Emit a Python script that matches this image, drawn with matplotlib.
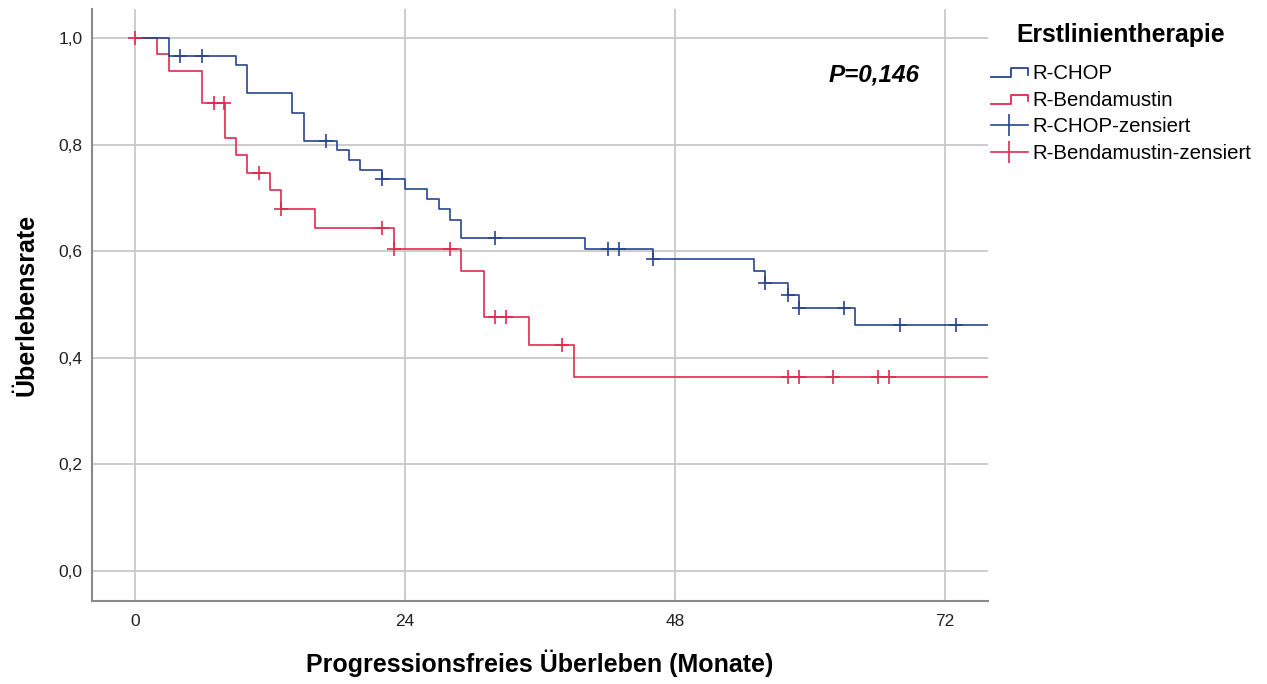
import numpy as np
import matplotlib
matplotlib.use("Agg")
import matplotlib.pyplot as plt
from matplotlib.lines import Line2D
from matplotlib.legend_handler import HandlerBase

# Kaplan-Meier step data
chop_times = [0, 3, 9, 10, 14, 15, 18, 19, 20, 22, 24, 26, 27, 28, 29, 40, 46, 55, 56, 58, 59, 64]
chop_surv = [1.0, 0.967, 0.950, 0.897, 0.860, 0.807, 0.789, 0.772, 0.753, 0.736, 0.717, 0.698,
             0.679, 0.659, 0.624, 0.605, 0.585, 0.563, 0.541, 0.517, 0.493, 0.462]
chop_censored = [4, 6, 17, 22, 32, 42, 43, 46, 56, 58, 59, 63, 68, 73]

benda_times = [0, 2, 3, 6, 8, 9, 10, 12, 13, 16, 23, 29, 31, 35, 39]
benda_surv = [1.0, 0.970, 0.939, 0.879, 0.813, 0.781, 0.747, 0.714, 0.679, 0.643, 0.604,
              0.563, 0.476, 0.424, 0.364]
benda_censored = [0, 7, 7.9, 11, 13, 22, 23, 28, 32, 33, 38, 58, 59, 62, 66, 67]

x_end = 76
x_ticks = [0, 24, 48, 72]
y_ticks = [0.0, 0.2, 0.4, 0.6, 0.8, 1.0]

BLUE = '#27448f'
RED = '#e3294f'
GRID = '#c8c8c8'

plt.rcParams['font.family'] = ['Liberation Sans', 'DejaVu Sans']


def surv_at(times, surv, t):
    idx = np.searchsorted(times, t, side='right') - 1
    return np.asarray(surv)[idx]


class StepHandler(HandlerBase):
    def create_artists(self, legend, orig_handle, xdescent, ydescent, width, height, fontsize, trans):
        lo = height * 0.1
        hi = height * 0.75
        xs = np.array([0, 0.55, 0.55, 1.0, 1.0]) * width - xdescent
        ys = np.array([lo, lo, hi, hi, height * 0.3]) - ydescent
        line = Line2D(xs, ys, color=orig_handle.get_color(), lw=1.3, transform=trans)
        return [line]


fig = plt.figure(figsize=(12.67, 6.84), dpi=100)
ax = fig.add_axes([0.0726, 0.1213, 0.7072, 0.8655])

for v in x_ticks:
    ax.axvline(v, color=GRID, lw=1.3, zorder=0)
for v in y_ticks:
    ax.axhline(v, color=GRID, lw=1.3, zorder=0)

ax.step(chop_times + [x_end], chop_surv + [chop_surv[-1]], where='post', color=BLUE, lw=1.2, zorder=3)
ax.step(benda_times + [x_end], benda_surv + [benda_surv[-1]], where='post', color=RED, lw=1.2, zorder=2)

ax.plot(chop_censored, surv_at(chop_times, chop_surv, chop_censored), ls='none',
        marker='+', ms=9.5, mew=1.2, color=BLUE, zorder=4)
ax.plot(benda_censored, surv_at(benda_times, benda_surv, benda_censored), ls='none',
        marker='+', ms=9.5, mew=1.2, color=RED, zorder=4)

ax.set_xlim(-3.82, 75.82)
ax.set_ylim(-0.0563, 1.0544)
ax.set_xticks(x_ticks)
ax.set_yticks(y_ticks)
ax.set_yticklabels([f"{v:.1f}".replace('.', ',') for v in y_ticks])
ax.tick_params(length=0, labelsize=12.5, colors='#222222')
ax.tick_params(axis='x', pad=9)
ax.tick_params(axis='y', pad=7)

for s in ['top', 'right']:
    ax.spines[s].set_visible(False)
for s in ['left', 'bottom']:
    ax.spines[s].set_color('#8a8a8a')
    ax.spines[s].set_linewidth(1.5)

ax.set_xlabel("Progressionsfreies Überleben (Monate)", fontsize=18, fontweight='bold', labelpad=15)
ax.set_ylabel("Überlebensrate", fontsize=18, fontweight='bold', labelpad=14)

ax.text(0.873, 0.8885, "P=0,146", transform=ax.transAxes, fontsize=17.5,
        fontweight='bold', fontstyle='italic', ha='center', va='center')

h_chop = Line2D([], [], color=BLUE)
h_benda = Line2D([], [], color=RED)
h_chop_c = Line2D([], [], color=BLUE, marker='|', ms=16, mew=1.2, lw=1.2)
h_benda_c = Line2D([], [], color=RED, marker='|', ms=16, mew=1.2, lw=1.2)
leg = fig.legend([h_chop, h_benda, h_chop_c, h_benda_c],
                 ['R-CHOP', 'R-Bendamustin', 'R-CHOP-zensiert', 'R-Bendamustin-zensiert'],
                 handler_map={h_chop: StepHandler(), h_benda: StepHandler()},
                 loc='upper left', bbox_to_anchor=(0.782, 0.966), frameon=False,
                 title='Erstlinientherapie', fontsize=14.7, handlelength=1.8,
                 handletextpad=0.25, labelspacing=0.38, borderaxespad=0, borderpad=0)
leg.get_title().set_fontweight('bold')
leg.get_title().set_fontsize(17.8)
# extra gap between the legend title and the entries
leg._legend_box.sep = 12

fig.savefig('out.png', dpi=100)
